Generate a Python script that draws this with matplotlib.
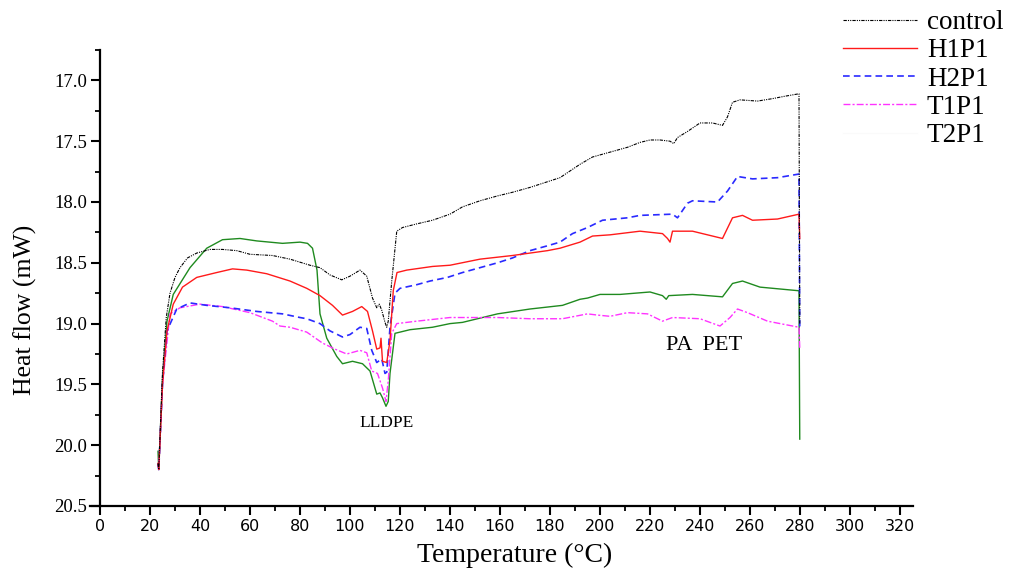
import matplotlib
matplotlib.use("Agg")
import matplotlib.pyplot as plt
from matplotlib.lines import Line2D
from matplotlib.ticker import MultipleLocator

# ---------------- data ----------------
control_T = [23.2, 23.5, 25, 26.5, 28, 30, 32, 35, 38.7, 44, 49, 54.7, 60, 69, 76, 84, 88, 92,
             96.7, 100, 104, 106.7, 109, 110.7, 111.7, 112.7, 114, 114.7, 115.3, 116.7, 118.7,
             121, 126.7, 133, 140, 145, 152, 159, 165, 172, 181, 184, 192, 197, 204, 211, 216,
             220, 224, 228, 229.5, 231, 235, 240, 245, 249, 251, 253, 256, 263, 269, 274,
             279.6, 279.9]
control_V = [20.15, 20.2, 19.4, 18.95, 18.75, 18.62, 18.54, 18.46, 18.42, 18.39, 18.39, 18.40,
             18.43, 18.44, 18.47, 18.52, 18.54, 18.60, 18.64, 18.61, 18.56, 18.61, 18.79, 18.87,
             18.84, 18.89, 18.99, 19.03, 18.98, 18.65, 18.24, 18.21, 18.18, 18.15, 18.10, 18.04,
             17.99, 17.95, 17.92, 17.88, 17.82, 17.80, 17.69, 17.63, 17.59, 17.55, 17.51, 17.49,
             17.49, 17.50, 17.52, 17.47, 17.42, 17.35, 17.35, 17.37, 17.30, 17.18, 17.16, 17.17,
             17.15, 17.13, 17.11, 19.0]

h1p1_T = [23.2, 23.5, 25, 26.8, 29.3, 33, 38.7, 46.7, 53, 58.7, 66.7, 76, 82.7, 88, 93, 97, 101,
          104.7, 107, 109, 110.7, 112, 112.4, 113, 114.7, 116, 117.3, 118.8, 122.7, 133, 140,
          152, 165, 179, 184, 192, 197, 204, 216, 225, 227, 228, 229, 237, 249, 253, 257, 261,
          271, 279.6, 279.9]
h1p1_V = [20.15, 20.2, 19.5, 19.06, 18.84, 18.70, 18.62, 18.58, 18.55, 18.56, 18.59, 18.65,
          18.71, 18.77, 18.85, 18.93, 18.90, 18.86, 18.90, 19.06, 19.21, 19.20, 19.12, 19.31,
          19.32, 19.14, 18.73, 18.58, 18.56, 18.53, 18.52, 18.47, 18.44, 18.40, 18.38, 18.33,
          18.28, 18.27, 18.24, 18.26, 18.30, 18.33, 18.24, 18.24, 18.30, 18.13, 18.11, 18.15,
          18.14, 18.10, 18.30]

h2p1_T = [23.2, 23.5, 25, 26.8, 30.7, 36, 42.7, 52, 62.7, 73, 80, 82.7, 88, 92, 97, 100, 104,
          106.7, 108.7, 110.7, 112.7, 114, 114.7, 116, 118, 120, 126.7, 132, 139, 145, 152,
          159, 165, 172, 179, 184, 189, 195, 201, 211, 216, 229, 231, 235, 237, 247, 251, 255,
          261, 271, 279.6, 279.9]
h2p1_V = [20.15, 20.2, 19.5, 19.06, 18.88, 18.83, 18.85, 18.87, 18.90, 18.92, 18.95, 18.96,
          19.00, 19.06, 19.11, 19.09, 19.03, 19.04, 19.22, 19.32, 19.29, 19.41, 19.40, 19.03,
          18.75, 18.71, 18.68, 18.65, 18.62, 18.58, 18.54, 18.50, 18.46, 18.40, 18.36, 18.33,
          18.26, 18.21, 18.15, 18.13, 18.11, 18.10, 18.13, 18.01, 17.99, 18.00, 17.91, 17.79,
          17.81, 17.80, 17.77, 19.05]

t1p1_T = [23.2, 23.5, 25, 28, 32, 40, 49, 60, 69, 72, 76, 82.7, 89, 94, 98.7, 104, 106.7, 108.7,
          111, 113, 114.4, 115.3, 116.7, 118.7, 126.7, 140, 159, 172, 185, 195, 199, 204, 211,
          219, 225, 229, 240, 248, 252, 255, 259, 267, 279.6, 279.9]
t1p1_V = [20.15, 20.2, 19.5, 18.92, 18.87, 18.84, 18.86, 18.91, 18.98, 19.02, 19.03, 19.07,
          19.16, 19.21, 19.25, 19.22, 19.24, 19.39, 19.41, 19.53, 19.64, 19.47, 19.08, 19.00,
          18.98, 18.95, 18.95, 18.96, 18.96, 18.92, 18.93, 18.94, 18.91, 18.92, 18.98, 18.95,
          18.96, 19.02, 18.95, 18.88, 18.91, 18.98, 19.03, 19.20]

t2p1_T = [23.2, 23.5, 25, 26.8, 29.3, 36, 42.7, 49, 56, 62.7, 73, 80, 83, 85, 86.8, 88, 90.7,
          94.7, 97, 101, 105, 108, 110.7, 112, 113, 114.4, 115.3, 116, 118, 124, 133, 140, 145,
          159, 172, 185, 192, 195, 200, 208, 220, 225, 226.5, 227.5, 237, 249, 253, 257, 264,
          279.6, 279.9]
t2p1_V = [20.05, 20.2, 19.45, 18.98, 18.76, 18.54, 18.38, 18.31, 18.30, 18.32, 18.34, 18.33,
          18.34, 18.38, 18.56, 18.92, 19.12, 19.27, 19.33, 19.31, 19.33, 19.39, 19.58, 19.57,
          19.61, 19.68, 19.64, 19.41, 19.08, 19.05, 19.03, 19.00, 18.99, 18.92, 18.88, 18.85,
          18.80, 18.79, 18.76, 18.76, 18.74, 18.77, 18.80, 18.77, 18.76, 18.78, 18.67, 18.65,
          18.70, 18.73, 19.95]

labels = ["control", "H1P1", "H2P1", "T1P1", "T2P1"]
x_ticks = list(range(0, 321, 20))
y_ticks = [17.0, 17.5, 18.0, 18.5, 19.0, 19.5, 20.0, 20.5]

# ---------------- styles ----------------
SERIF = ["Liberation Serif", "DejaVu Serif"]
plt.rcParams["font.family"] = SERIF

c_control = "#000000"
c_h1 = "#ff1a1a"
c_h2 = "#2a2aff"
c_t1 = "#ff33ff"
c_t2 = "#1f8a1f"

ls_control = (0, (3, 1, 1, 1, 1, 1))
ls_h2 = (0, (4, 2.5))
ls_t1 = (0, (5, 1.5, 1.5, 1.5))

fig = plt.figure(figsize=(10.23, 5.72), dpi=100)
ax = fig.add_axes([90 / 1023, 1 - 506 / 572, 822.5 / 1023, (506 - 50) / 572])

ax.plot(t2p1_T, t2p1_V, color=c_t2, lw=1.0, ls="-")
ax.plot(t1p1_T, t1p1_V, color=c_t1, lw=1.0, ls=ls_t1)
ax.plot(h2p1_T, h2p1_V, color=c_h2, lw=1.2, ls=ls_h2)
ax.plot(h1p1_T, h1p1_V, color=c_h1, lw=1.0, ls="-")
ax.plot(control_T, control_V, color=c_control, lw=0.8, ls=ls_control)

ax.set_xlim(-4, 325)
ax.set_ylim(20.5, 16.75)

for s in ["top", "right"]:
    ax.spines[s].set_visible(False)
ax.spines["left"].set_position(("data", 0))
ax.spines["left"].set_linewidth(1.6)
ax.spines["bottom"].set_linewidth(1.6)

ax.set_xticks(x_ticks)
ax.xaxis.set_minor_locator(MultipleLocator(10))
ax.set_yticks(y_ticks)
ax.yaxis.set_minor_locator(MultipleLocator(0.25))
ax.set_yticklabels([f"{v:.1f}" for v in y_ticks], fontsize=13.5, family=SERIF)
ax.set_xticklabels([str(v) for v in x_ticks], fontsize=11.5, family=["DejaVu Sans"])
ax.tick_params(axis="both", which="major", direction="out", length=6.5, width=1.5)
ax.tick_params(axis="both", which="minor", direction="out", length=3.5, width=1.3)
ax.tick_params(axis="x", which="major", pad=3)
ax.tick_params(axis="y", which="major", pad=3)

fig.text(515 / 1023, 1 - 555 / 572, "Temperature (°C)", ha="center", va="center", fontsize=20)
fig.text(25 / 1023, 1 - 310 / 572, "Heat flow (mW)", ha="center", va="center",
         rotation=90, fontsize=18.5)

ax.text(114.8, 19.82, "LLDPE", ha="center", va="center", fontsize=12.5)
ax.text(241.6, 19.18, "PA  PET", ha="center", va="center", fontsize=16)

handles = [
    Line2D([], [], color=c_control, lw=0.8, ls=ls_control),
    Line2D([], [], color=c_h1, lw=1.0, ls="-"),
    Line2D([], [], color=c_h2, lw=1.2, ls=ls_h2),
    Line2D([], [], color=c_t1, lw=1.0, ls=ls_t1),
    Line2D([], [], color="#fafafa", lw=1.0, ls="-"),
]
leg = ax.legend(handles, labels, loc="upper left", bbox_to_anchor=(843 / 1023, 1 - 10 / 572),
                bbox_transform=fig.transFigure, frameon=False, fontsize=19.5,
                handlelength=2.73, handletextpad=0.37, labelspacing=0.12,
                borderpad=0, borderaxespad=0)

fig.savefig("out.png", dpi=100)
